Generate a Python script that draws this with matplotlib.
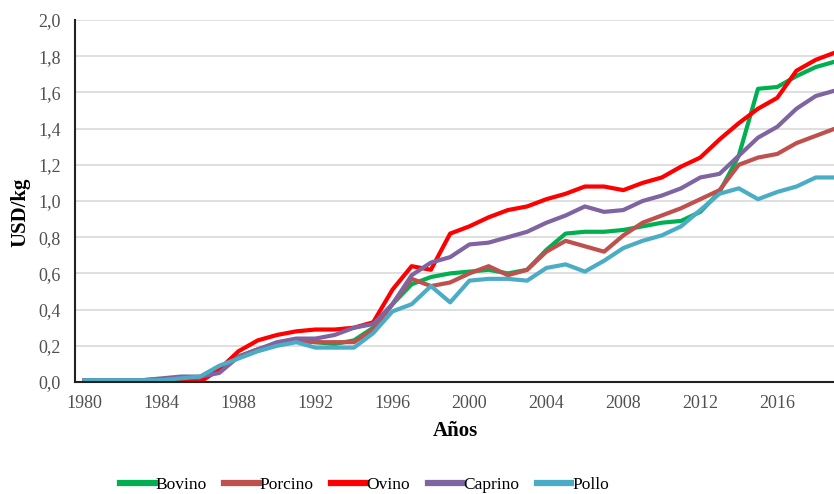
import matplotlib
matplotlib.use("Agg")
import matplotlib.pyplot as plt
from matplotlib.ticker import FuncFormatter

years = list(range(1980, 2020))
bovino = [0.01, 0.01, 0.01, 0.01, 0.015, 0.02, 0.02, 0.06, 0.14, 0.18, 0.21, 0.23, 0.22, 0.21, 0.23, 0.30,
          0.43, 0.54, 0.58, 0.60, 0.61, 0.62, 0.60, 0.62, 0.73, 0.82, 0.83, 0.83, 0.84, 0.86, 0.88, 0.89,
          0.94, 1.05, 1.25, 1.62, 1.63, 1.69, 1.74, 1.77]
porcino = [0.01, 0.01, 0.01, 0.01, 0.015, 0.02, 0.02, 0.06, 0.14, 0.18, 0.21, 0.23, 0.22, 0.22, 0.22, 0.29,
           0.43, 0.57, 0.53, 0.55, 0.60, 0.64, 0.59, 0.62, 0.72, 0.78, 0.75, 0.72, 0.81, 0.88, 0.92, 0.96,
           1.01, 1.06, 1.20, 1.24, 1.26, 1.32, 1.36, 1.40]
ovino = [0.01, 0.01, 0.01, 0.01, 0.01, 0.01, 0.00, 0.07, 0.17, 0.23, 0.26, 0.28, 0.29, 0.29, 0.30, 0.33,
         0.51, 0.64, 0.62, 0.82, 0.86, 0.91, 0.95, 0.97, 1.01, 1.04, 1.08, 1.08, 1.06, 1.10, 1.13, 1.19,
         1.24, 1.34, 1.43, 1.51, 1.57, 1.72, 1.78, 1.82]
caprino = [0.01, 0.01, 0.01, 0.01, 0.02, 0.03, 0.03, 0.05, 0.14, 0.18, 0.22, 0.24, 0.24, 0.26, 0.30, 0.32,
           0.43, 0.59, 0.66, 0.69, 0.76, 0.77, 0.80, 0.83, 0.88, 0.92, 0.97, 0.94, 0.95, 1.00, 1.03, 1.07,
           1.13, 1.15, 1.25, 1.35, 1.41, 1.51, 1.58, 1.61]
pollo = [0.01, 0.01, 0.01, 0.01, 0.01, 0.02, 0.03, 0.09, 0.13, 0.17, 0.20, 0.22, 0.19, 0.19, 0.19, 0.27,
         0.39, 0.43, 0.53, 0.44, 0.56, 0.57, 0.57, 0.56, 0.63, 0.65, 0.61, 0.67, 0.74, 0.78, 0.81, 0.86,
         0.95, 1.04, 1.07, 1.01, 1.05, 1.08, 1.13, 1.13]

series = [("Bovino", bovino, "#00B050"),
          ("Porcino", porcino, "#C0504D"),
          ("Ovino", ovino, "#FF0000"),
          ("Caprino", caprino, "#8064A2"),
          ("Pollo", pollo, "#4BACC6")]

plt.rcParams['font.family'] = ['Liberation Serif', 'DejaVu Serif']

fig = plt.figure(figsize=(8.34, 4.94), dpi=100)
ax = fig.add_axes([0.0899, 0.2267, 0.9101, 0.7328])

for name, vals, col in series:
    ax.plot(years, vals, color=col, lw=3.0, label=name, solid_joinstyle='round')

ax.set_xlim(1979.5, 2018.95)
ax.set_ylim(0, 2.0)
ax.set_yticks([i * 0.2 for i in range(11)])
ax.yaxis.set_major_formatter(FuncFormatter(lambda v, p: f"{v:.1f}".replace(".", ",")))
ax.set_xticks(list(range(1980, 2019, 4)))
ax.tick_params(axis='both', length=0, labelsize=13, colors='#505050')
ax.tick_params(axis='x', pad=9)
ax.tick_params(axis='y', pad=10)
ax.grid(axis='y', color='#D9D9D9', lw=1.2)
ax.set_axisbelow(True)
for s in ['top', 'right']:
    ax.spines[s].set_visible(False)
for s in ['left', 'bottom']:
    ax.spines[s].set_color('#222222')
    ax.spines[s].set_linewidth(1.5)

fig.text(0.025, 0.57, "USD/kg", rotation=90, fontsize=15, fontweight='bold', ha='center', va='center')
fig.text(0.5455, 0.128, "Años", fontsize=15, fontweight='bold', ha='center', va='center')

leg = fig.legend(loc='center', bbox_to_anchor=(0.437, 0.018), ncol=5, frameon=False, fontsize=12.5,
                 handlelength=2.0, handletextpad=0.05, columnspacing=1.0)
for l in leg.get_lines():
    l.set_linewidth(4.5)

fig.savefig("out.png", dpi=100)
